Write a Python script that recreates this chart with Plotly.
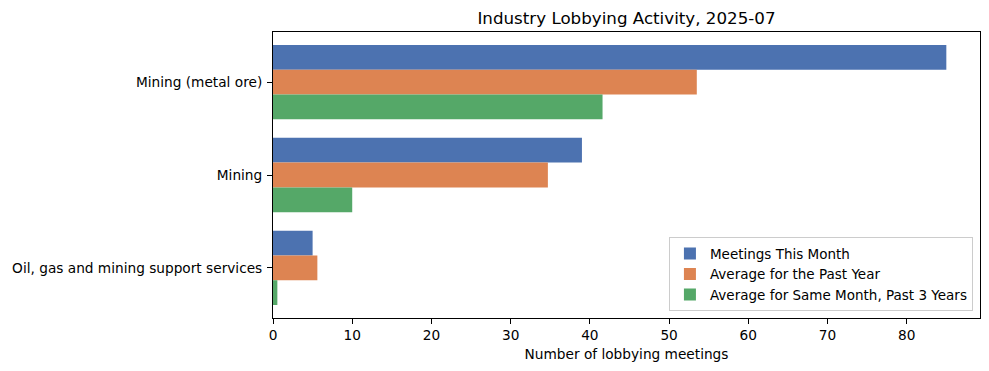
import plotly.graph_objects as go

categories = ["Mining (metal ore)", "Mining", "Oil, gas and mining support services"]
meetings_this_month = [85, 39, 5]
avg_past_year = [53.5, 34.7, 5.6]
avg_same_month_3y = [41.6, 10.0, 0.55]
series_names = ["Meetings This Month", "Average for the Past Year", "Average for Same Month, Past 3 Years"]
colors = ["#4C72B0", "#DD8452", "#55A868"]
x_ticks = [0, 10, 20, 30, 40, 50, 60, 70, 80]

fig = go.Figure()
for name, vals, c in zip(series_names, [meetings_this_month, avg_past_year, avg_same_month_3y], colors):
    fig.add_trace(go.Bar(y=categories, x=vals, name=name, orientation="h",
                         marker=dict(color=c, line=dict(width=0))))

font = "DejaVu Sans, sans-serif"
FS = 13.7
W, H = 981, 363
L, R, T, B = 265, 9, 24, 53
fig.update_layout(
    width=W, height=H,
    margin=dict(l=L, r=R, t=T, b=B, autoexpand=False),
    barmode="group", bargap=0.2, bargroupgap=0,
    plot_bgcolor="white", paper_bgcolor="white",
    font=dict(family=font, size=FS, color="black"),
    title=dict(text="Industry Lobbying Activity, 2025-07", x=(L + (W - R)) / 2 / W, xanchor="center",
               y=1 - 10 / H, yanchor="middle", font=dict(size=16.7, family=font, color="black")),
    showlegend=True,
    legend=dict(x=0.99, y=0.024, xanchor="right", yanchor="bottom",
                bgcolor="rgba(255,255,255,0.8)", bordercolor="#cccccc", borderwidth=1,
                font=dict(size=13.5, family=font), traceorder="normal",
                itemsizing="constant"),
)
fig.update_xaxes(range=[0, 89.25], tickvals=x_ticks, ticks="outside", ticklen=5, tickcolor="black",
                 showline=True, linecolor="black", linewidth=1, mirror=True, showgrid=False,
                 zeroline=False, automargin=False, tickfont=dict(size=FS),
                 title=dict(text="Number of lobbying meetings", font=dict(size=FS, family=font), standoff=6))
fig.update_yaxes(type="category", categoryorder="array", categoryarray=categories,
                 range=[2.54, -0.54], ticks="outside", ticklen=5, tickcolor="black",
                 showline=True, linecolor="black", linewidth=1, mirror=True, showgrid=False,
                 ticklabelstandoff=2, automargin=False, tickfont=dict(size=FS))
fig.write_html("out.html")
